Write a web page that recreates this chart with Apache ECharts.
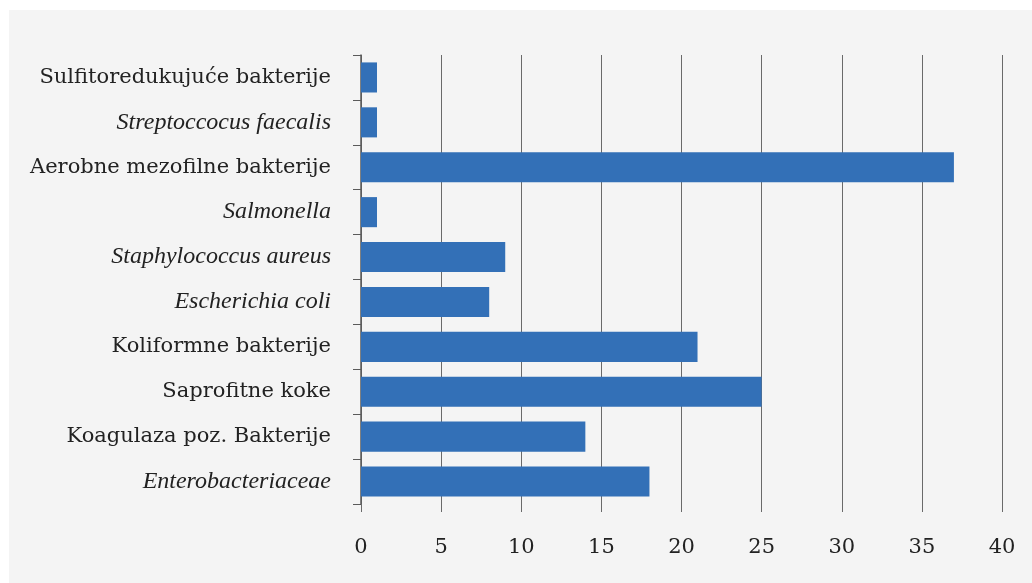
<!DOCTYPE html>
<html>
<head>
<meta charset="utf-8">
<script src="https://cdn.jsdelivr.net/npm/echarts@6/dist/echarts.min.js"></script>
<style>
html,body{margin:0;padding:0;background:#fff;}
#chart{width:1032px;height:583px;}
</style>
</head>
<body>
<div id="chart"></div>
<script>
const categories = [
  "Sulfitoredukujuće bakterije",
  "Streptoccocus faecalis",
  "Aerobne mezofilne bakterije",
  "Salmonella",
  "Staphylococcus aureus",
  "Escherichia coli",
  "Koliformne bakterije",
  "Saprofitne koke",
  "Koagulaza poz. Bakterije",
  "Enterobacteriaceae"
];
const values = [1, 1, 37, 1, 9, 8, 21, 25, 14, 18];
const italicCategories = [
  "Streptoccocus faecalis",
  "Salmonella",
  "Staphylococcus aureus",
  "Escherichia coli",
  "Enterobacteriaceae"
];
const xTicks = [0, 5, 10, 15, 20, 25, 30, 35, 40];

const FONT = "'DejaVu Serif', 'Liberation Serif', serif";
const FONT_I = "'Liberation Serif', 'DejaVu Serif', serif";
const chart = echarts.init(document.getElementById('chart'), null, {renderer: 'canvas'});
chart.setOption({
  backgroundColor: '#ffffff',
  animation: false,
  graphic: [{
    type: 'rect', z: -10, silent: true,
    shape: {x: 9, y: 10, width: 1023, height: 573},
    style: {fill: '#f4f4f4'}
  }],
  grid: {left: 361, right: 30, top: 55, bottom: 79, containLabel: false},
  xAxis: {
    type: 'value',
    min: xTicks[0],
    max: xTicks[xTicks.length - 1],
    interval: 5,
    axisLine: {show: false},
    axisTick: {show: true, length: 8, lineStyle: {color: '#6a6a6a', width: 1}},
    splitLine: {show: true, lineStyle: {color: '#6a6a6a', width: 1}},
    axisLabel: {
      margin: 33, color: '#222', fontFamily: FONT, fontSize: 21
    }
  },
  yAxis: {
    type: 'category',
    inverse: true,
    data: categories,
    axisLine: {show: true, lineStyle: {color: '#5a5a5a', width: 1.5}},
    axisTick: {show: true, length: 8, lineStyle: {color: '#5a5a5a', width: 1}},
    axisLabel: {
      margin: 30,
      color: '#222',
      fontFamily: FONT,
      fontSize: 21,
      formatter: function (v) {
        return italicCategories.indexOf(v) >= 0 ? '{i|' + v + '}' : '{n|' + v + '}';
      },
      rich: {
        i: {fontStyle: 'italic', fontFamily: FONT_I, fontSize: 24, color: '#222'},
        n: {fontFamily: FONT, fontSize: 21, color: '#222'}
      }
    }
  },
  series: [{
    type: 'bar',
    data: values,
    barCategoryGap: '33%',
    itemStyle: {color: '#3370b7'}
  }]
});
</script>
</body>
</html>
